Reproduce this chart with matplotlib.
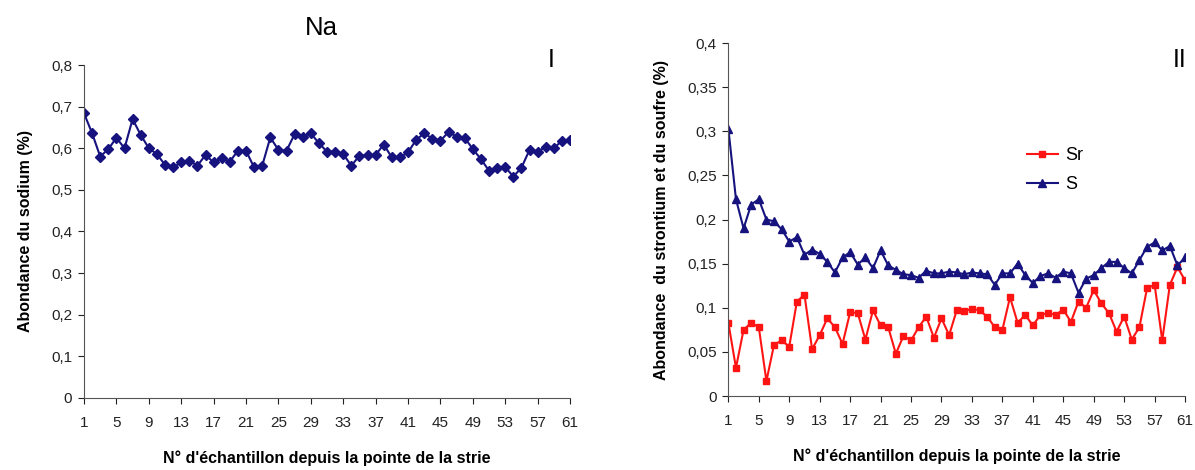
import matplotlib
matplotlib.use('Agg')
import matplotlib.pyplot as plt
import numpy as np

plt.rcParams['font.family'] = ['Liberation Sans', 'DejaVu Sans']

samples = np.arange(1, 62)

na = [0.684, 0.636, 0.580, 0.598, 0.625, 0.600, 0.670, 0.632, 0.600, 0.586,
      0.560, 0.554, 0.566, 0.570, 0.558, 0.584, 0.566, 0.576, 0.568, 0.594,
      0.594, 0.554, 0.558, 0.626, 0.596, 0.594, 0.634, 0.628, 0.636, 0.612,
      0.592, 0.592, 0.586, 0.558, 0.582, 0.584, 0.584, 0.609, 0.578, 0.578,
      0.590, 0.620, 0.636, 0.623, 0.618, 0.639, 0.628, 0.625, 0.598, 0.574,
      0.546, 0.553, 0.555, 0.532, 0.553, 0.596, 0.592, 0.603, 0.600, 0.618,
      0.620]

sr = [0.083, 0.032, 0.075, 0.083, 0.078, 0.017, 0.058, 0.063, 0.056, 0.107,
      0.115, 0.053, 0.069, 0.088, 0.078, 0.059, 0.095, 0.094, 0.064, 0.097,
      0.080, 0.078, 0.048, 0.068, 0.063, 0.078, 0.090, 0.066, 0.088, 0.069,
      0.097, 0.096, 0.099, 0.097, 0.090, 0.078, 0.075, 0.112, 0.083, 0.092,
      0.080, 0.092, 0.094, 0.092, 0.098, 0.084, 0.107, 0.100, 0.120, 0.105,
      0.094, 0.073, 0.090, 0.064, 0.078, 0.122, 0.126, 0.063, 0.126, 0.146,
      0.131]

s = [0.303, 0.223, 0.190, 0.217, 0.223, 0.200, 0.198, 0.189, 0.175, 0.180,
     0.160, 0.166, 0.161, 0.152, 0.140, 0.157, 0.163, 0.149, 0.157, 0.145,
     0.165, 0.148, 0.143, 0.138, 0.137, 0.134, 0.142, 0.139, 0.139, 0.141,
     0.140, 0.138, 0.140, 0.139, 0.138, 0.126, 0.139, 0.139, 0.150, 0.137,
     0.128, 0.136, 0.139, 0.134, 0.141, 0.139, 0.117, 0.133, 0.137, 0.145,
     0.152, 0.152, 0.145, 0.139, 0.154, 0.169, 0.174, 0.165, 0.170, 0.148,
     0.157]

xticks = np.arange(1, 62, 4)
na_yticks = np.arange(0, 0.81, 0.1)
srs_yticks = np.arange(0, 0.401, 0.05)

navy = '#16127e'
red = '#ff1414'


def fmt(v):
    return ('%g' % round(v, 2)).replace('.', ',')


def style(ax, yticks):
    ax.spines['top'].set_visible(False)
    ax.spines['right'].set_visible(False)
    ax.set_xlim(1, 61)
    ax.set_xticks(xticks)
    ax.set_yticks(yticks)
    ax.set_yticklabels([fmt(v) for v in yticks])
    ax.set_ylim(0, yticks[-1])
    ax.tick_params(labelsize=11, length=4, width=0.8, colors='#222222')
    ax.tick_params(axis='x', pad=9)
    ax.tick_params(axis='y', pad=4.5)
    ax.spines['left'].set_color('#555555')
    ax.spines['bottom'].set_color('#555555')
    ax.set_xlabel("N° d'échantillon depuis la pointe de la strie",
                  fontsize=11.5, fontweight='bold', labelpad=15)


fig = plt.figure(figsize=(11.95, 4.7), dpi=100)

ax1 = fig.add_axes([0.0703, 0.1532, 0.4067, 0.7085])
ax1.plot(samples, na, color=navy, lw=1.5, marker='D', ms=5)
style(ax1, na_yticks)
ax1.set_ylabel('Abondance du sodium (%)', fontsize=11.5, fontweight='bold', labelpad=13)
fig.text(321 / 1195, 1 - 28 / 470, 'Na', fontsize=18.5, ha='center', va='center')
fig.text(551 / 1195, 1 - 60 / 470, 'I', fontsize=18, ha='center', va='center')

ax2 = fig.add_axes([0.6095, 0.1574, 0.3822, 0.751])
ax2.plot(samples, sr, color=red, lw=1.5, marker='s', ms=5, label='Sr')
ax2.plot(samples, s, color=navy, lw=1.5, marker='^', ms=6, label='S')
style(ax2, srs_yticks)
ax2.set_ylabel('Abondance  du strontium et du soufre (%)', fontsize=11.5,
               fontweight='bold', labelpad=13)
ax2.legend(loc='upper left', bbox_to_anchor=(0.654, 0.705), frameon=False,
           fontsize=13, handlelength=1.7, handletextpad=0.4, labelspacing=0.65,
           borderpad=0, borderaxespad=0)
fig.text(1180 / 1195, 1 - 60 / 470, 'II', fontsize=18, ha='center', va='center')

fig.savefig('out.png', dpi=100)
